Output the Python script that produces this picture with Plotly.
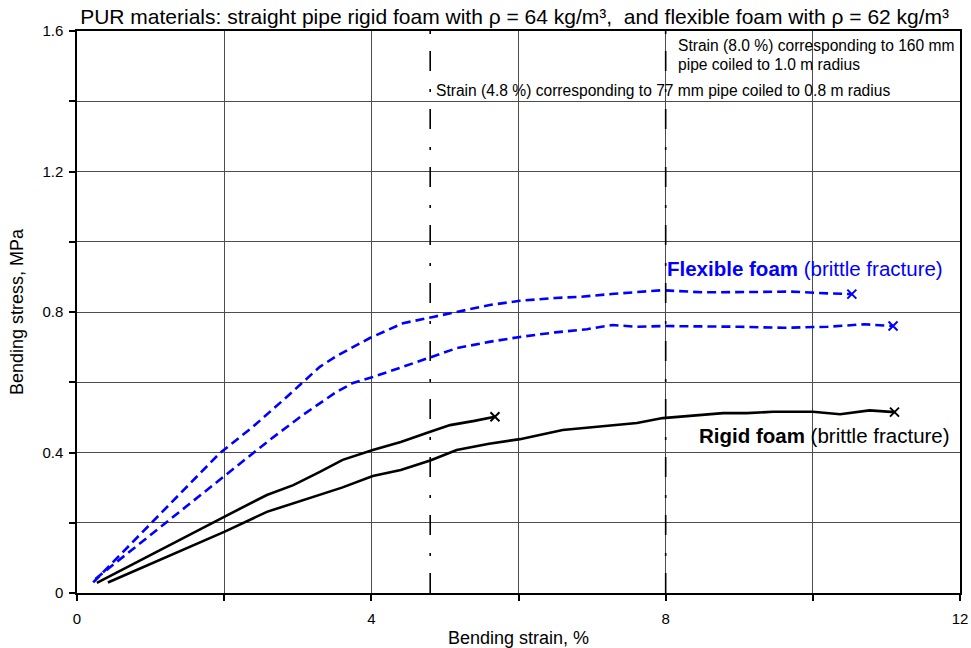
import plotly.graph_objects as go

# Bending strain (%) vs bending stress (MPa)
flex_hi_x = [0.22, 0.6, 1.0, 1.5, 1.94, 2.39, 2.85, 3.3, 3.53, 3.98, 4.43, 4.84, 5.16, 5.61, 6.02,
             6.5, 6.83, 7.3, 7.96, 8.5, 9.19, 9.7, 10.2, 10.53]
flex_hi_y = [0.03, 0.11, 0.197, 0.304, 0.398, 0.473, 0.558, 0.644, 0.675, 0.726, 0.768, 0.786, 0.80, 0.82, 0.832,
             0.84, 0.843, 0.852, 0.862, 0.856, 0.857, 0.858, 0.853, 0.851]

flex_lo_x = [0.25, 0.7, 1.22, 1.6, 2.02, 2.62, 3.07, 3.53, 3.75, 4.02, 4.43, 4.8, 5.16, 5.6, 6.02,
             6.5, 6.93, 7.28, 7.6, 7.96, 8.5, 9.0, 9.6, 10.2, 10.7, 11.09]
flex_lo_y = [0.04, 0.115, 0.2, 0.265, 0.336, 0.436, 0.507, 0.573, 0.598, 0.615, 0.644, 0.672, 0.697, 0.715, 0.729,
             0.742, 0.751, 0.763, 0.758, 0.760, 0.760, 0.758, 0.755, 0.758, 0.765, 0.760]

rigid_hi_x = [0.27, 0.8, 1.4, 2.0, 2.58, 2.94, 3.3, 3.61, 4.02, 4.4, 4.8, 5.07, 5.4, 5.68]
rigid_hi_y = [0.029, 0.087, 0.152, 0.217, 0.279, 0.307, 0.345, 0.379, 0.407, 0.43, 0.459, 0.478, 0.49, 0.502]

rigid_lo_x = [0.42, 1.0, 1.5, 2.0, 2.58, 3.17, 3.6, 4.02, 4.4, 4.8, 5.16, 5.6, 6.02, 6.6, 7.28,
              7.61, 7.96, 8.4, 8.78, 9.1, 9.46, 10.0, 10.37, 10.77, 11.11]
rigid_lo_y = [0.03, 0.083, 0.128, 0.174, 0.231, 0.27, 0.30, 0.333, 0.35, 0.377, 0.407, 0.425, 0.438, 0.464, 0.478,
              0.484, 0.498, 0.505, 0.512, 0.512, 0.516, 0.516, 0.509, 0.52, 0.515]

# Reference strains for coiled pipes
coil_strains = [4.8, 8.0]

x_ticks = [0, 2, 4, 6, 8, 10, 12]
x_labels = ["0", "", "4", "", "8", "", "12"]
y_ticks = [0, 0.2, 0.4, 0.6, 0.8, 1.0, 1.2, 1.4, 1.6]
y_labels = ["0", "", "0.4", "", "0.8", "", "1.2", "", "1.6"]

BLUE = "#0000ff"
BLACK = "#000000"
FONT = "Liberation Sans, Arial, sans-serif"

fig = go.Figure()

series = [
    (flex_hi_x, flex_hi_y, BLUE, "dash"),
    (flex_lo_x, flex_lo_y, BLUE, "dash"),
    (rigid_hi_x, rigid_hi_y, BLACK, "solid"),
    (rigid_lo_x, rigid_lo_y, BLACK, "solid"),
]
for xs, ys, col, dash in series:
    fig.add_trace(go.Scatter(x=xs, y=ys, mode="lines",
                             line=dict(color=col, width=2.6, dash="9px,5px" if dash == "dash" else "solid"),
                             hoverinfo="skip"))
    # fracture point
    fig.add_trace(go.Scatter(x=[xs[-1]], y=[ys[-1]], mode="markers",
                             marker=dict(symbol="x-thin", size=9, line=dict(color=col, width=2)),
                             hoverinfo="skip"))

shapes = []
for s in coil_strains:
    shapes.append(dict(type="line", xref="x", yref="y", x0=s, x1=s, y0=0, y1=1.6,
                       line=dict(color=BLACK, width=1.6, dash="20px,17px,3px,18px"), layer="above"))

note_font = dict(family=FONT, size=15.6, color=BLACK)
annotations = [
    dict(x=8.14, y=1.558, xref="x", yref="y", xanchor="left", yanchor="middle",
         text="Strain (8.0 %) corresponding to 160 mm", showarrow=False, font=note_font),
    dict(x=8.14, y=1.506, xref="x", yref="y", xanchor="left", yanchor="middle",
         text="pipe coiled to 1.0 m radius", showarrow=False, font=note_font),
    dict(x=4.85, y=1.43, xref="x", yref="y", xanchor="left", yanchor="middle",
         text="Strain (4.8 %) corresponding to 77 mm pipe coiled to 0.8 m radius",
         showarrow=False, font=note_font),
    dict(x=7.99, y=0.925, xref="x", yref="y", xanchor="left", yanchor="middle",
         text="<b>Flexible foam</b> (brittle fracture)",
         showarrow=False, font=dict(family=FONT, size=20.5, color=BLUE)),
    dict(x=8.42, y=0.447, xref="x", yref="y", xanchor="left", yanchor="middle",
         text="<b>Rigid foam</b> (brittle fracture)",
         showarrow=False, font=dict(family=FONT, size=20.5, color=BLACK)),
]

fig.update_layout(
    width=971, height=648,
    margin=dict(l=77, r=11, t=31, b=55),
    paper_bgcolor="white", plot_bgcolor="white",
    showlegend=False,
    font=dict(family=FONT, size=15, color=BLACK),
    title=dict(text="PUR materials: straight pipe rigid foam with ρ = 64 kg/m³,  and flexible foam with ρ = 62 kg/m³",
               x=0.53, xanchor="center", xref="container", y=0.974, yanchor="middle", yref="container",
               automargin=False, font=dict(family=FONT, size=21, color=BLACK)),
    shapes=shapes,
    annotations=annotations,
    xaxis=dict(range=[0, 12], tickmode="array", tickvals=x_ticks, ticktext=x_labels,
               ticks="outside", ticklen=6, tickwidth=1.5, tickcolor=BLACK, ticklabelstandoff=5,
               showgrid=True, gridcolor="#4d4d4d", gridwidth=1, automargin=False,
               showline=True, linecolor=BLACK, linewidth=1.5, mirror=True, zeroline=False,
               tickfont=dict(family=FONT, size=15),
               title=dict(text="Bending strain, %", standoff=6, font=dict(family=FONT, size=18))),
    yaxis=dict(range=[0, 1.6], tickmode="array", tickvals=y_ticks, ticktext=y_labels,
               ticks="outside", ticklen=6, tickwidth=1.5, tickcolor=BLACK, ticklabelstandoff=3,
               showgrid=True, gridcolor="#4d4d4d", gridwidth=1, automargin=False,
               showline=True, linecolor=BLACK, linewidth=1.5, mirror=True, zeroline=False,
               tickfont=dict(family=FONT, size=15),
               title=dict(text="Bending stress, MPa", standoff=14, font=dict(family=FONT, size=18))),
)

fig.write_html("out.html")
